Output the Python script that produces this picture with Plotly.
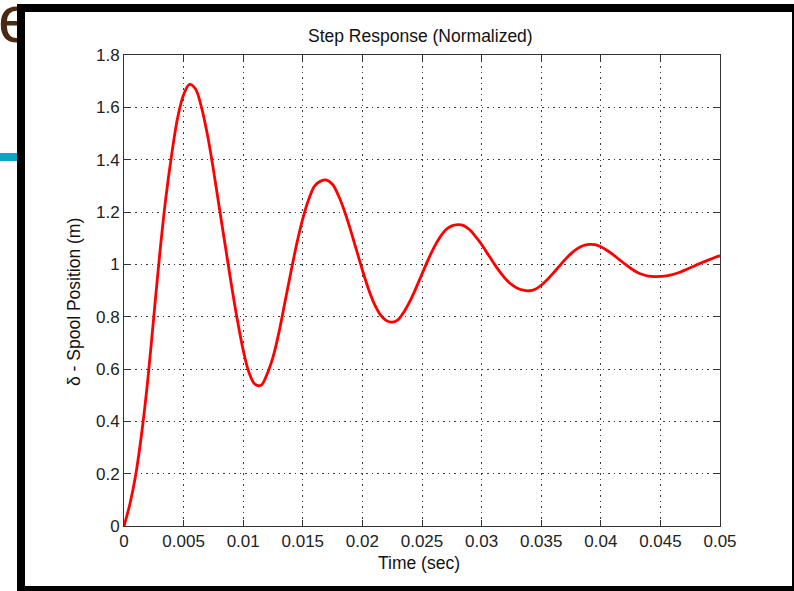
import plotly.graph_objects as go

# Normalized step response of the spool position, sampled every 0.5 ms
time_ms = [i * 0.5 for i in range(101)]
spool_pos = [
    0.000, 0.085, 0.200, 0.360, 0.560, 0.800, 1.040, 1.250, 1.420, 1.560,  # 0-4.5 ms
    1.648, 1.688, 1.670, 1.600, 1.495, 1.362, 1.215, 1.070, 0.925, 0.790,  # 5-9.5 ms
    0.672, 0.585, 0.541, 0.538, 0.580, 0.645, 0.740, 0.855, 0.970, 1.080,  # 10-14.5 ms
    1.175, 1.249, 1.300, 1.318, 1.322, 1.305, 1.262, 1.203, 1.132, 1.055,  # 15-19.5 ms
    0.978, 0.907, 0.849, 0.808, 0.785, 0.779, 0.789, 0.819, 0.860, 0.910,  # 20-24.5 ms
    0.963, 1.016, 1.064, 1.103, 1.132, 1.147, 1.152, 1.148, 1.132, 1.106,  # 25-29.5 ms
    1.076, 1.041, 1.006, 0.973, 0.945, 0.923, 0.909, 0.901, 0.899, 0.905,  # 30-34.5 ms
    0.920, 0.941, 0.966, 0.992, 1.018, 1.041, 1.059, 1.071, 1.076, 1.075,  # 35-39.5 ms
    1.067, 1.054, 1.038, 1.020, 1.002, 0.985, 0.971, 0.961, 0.955, 0.953,  # 40-44.5 ms
    0.954, 0.956, 0.961, 0.968, 0.977, 0.987, 0.997, 1.007, 1.016, 1.025,  # 45-49.5 ms
    1.033,                                                                 # 50 ms
]
time_s = [t / 1000.0 for t in time_ms]

x_ticks = [0, 0.005, 0.01, 0.015, 0.02, 0.025, 0.03, 0.035, 0.04, 0.045, 0.05]
x_tick_text = ["0", "0.005", "0.01", "0.015", "0.02", "0.025", "0.03", "0.035",
               "0.04", "0.045", "0.05"]
y_ticks = [0, 0.2, 0.4, 0.6, 0.8, 1.0, 1.2, 1.4, 1.6, 1.8]
y_tick_text = ["0", "0.2", "0.4", "0.6", "0.8", "1", "1.2", "1.4", "1.6", "1.8"]

W, H = 794, 591
FONT = "Liberation Sans, Arial, Helvetica, sans-serif"


def px(x):
    return x / W


def py(y):
    return 1 - y / H


fig = go.Figure()

fig.add_trace(go.Scatter(
    x=time_s, y=spool_pos, mode="lines",
    line=dict(color="#ff0000", width=2.8, shape="spline", smoothing=1.0),
    hoverinfo="skip", showlegend=False,
))

# Fragment of the slide heading peeking out beside the figure window
fig.add_trace(go.Scatter(
    x=[-2], y=[25], mode="text", text=["e"], textposition="middle right",
    textfont=dict(family=FONT, size=66, color="#4a2a12"),
    xaxis="x2", yaxis="y2", cliponaxis=True, hoverinfo="skip", showlegend=False,
))

axis_common = dict(
    showline=True, linecolor="#333333", linewidth=1, mirror="allticks",
    ticks="inside", ticklen=6, tickwidth=1, tickcolor="#333333",
    showgrid=True, gridcolor="#3a3a3a", gridwidth=1, griddash="1.5px,4px",
    zeroline=False, tickfont=dict(family=FONT, size=17, color="#222222"),
)

fig.update_layout(
    width=W, height=H,
    margin=dict(l=0, r=0, t=0, b=0, autoexpand=False),
    paper_bgcolor="white", plot_bgcolor="white",
    xaxis=dict(domain=[px(124), px(720)], range=[0, 0.05],
               tickvals=x_ticks, ticktext=x_tick_text, **axis_common),
    yaxis=dict(domain=[py(526), py(55)], range=[0, 1.8],
               tickvals=y_ticks, ticktext=y_tick_text, **axis_common),
    xaxis2=dict(domain=[0, px(17)], range=[0, 17], visible=False, anchor="y2"),
    yaxis2=dict(domain=[py(50), 1], range=[50, 0], visible=False, anchor="x2"),
)

# Figure window frame and slide accent bar
frame = "#000000"
rects = [
    (17, 4, 25, 591),    # left border
    (17, 4, 794, 12),    # top border
    (792, 4, 794, 591),  # right border
    (17, 586, 794, 591),  # bottom border
]
for x0, y0, x1, y1 in rects:
    fig.add_shape(type="rect", xref="paper", yref="paper",
                  x0=px(x0), x1=px(x1), y0=py(y1), y1=py(y0),
                  fillcolor=frame, line=dict(width=0), layer="above")
fig.add_shape(type="rect", xref="paper", yref="paper",
              x0=0, x1=px(17), y0=py(161), y1=py(153),
              fillcolor="#12a2c2", line=dict(width=0), layer="above")

# Title and axis labels
label_font = dict(family=FONT, size=17.5, color="#111111")
fig.add_annotation(x=px(420), y=py(36), xref="paper", yref="paper",
                   xanchor="center", yanchor="middle",
                   text="Step Response (Normalized)", showarrow=False,
                   font=label_font)
fig.add_annotation(x=px(419), y=py(563), xref="paper", yref="paper",
                   xanchor="center", yanchor="middle",
                   text="Time (sec)", showarrow=False, font=label_font)
fig.add_annotation(x=px(74), y=py(302), xref="paper", yref="paper",
                   xanchor="center", yanchor="middle",
                   text="δ - Spool Position (m)", showarrow=False, textangle=-90,
                   font=label_font)

fig.write_html("out.html")
